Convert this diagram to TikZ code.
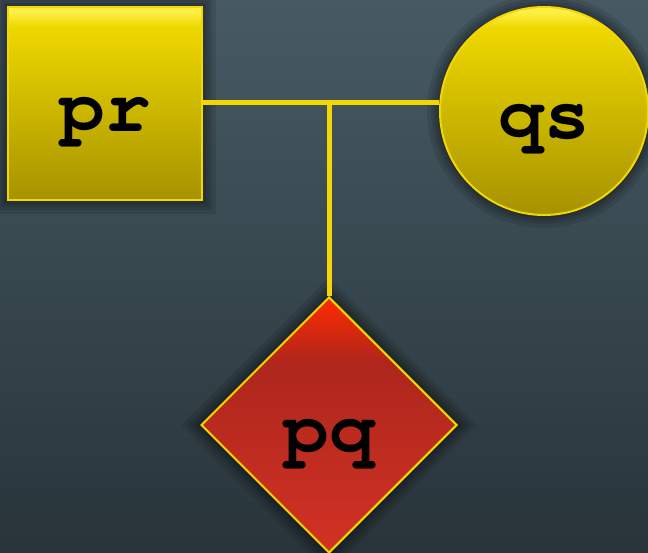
\documentclass[tikz,border=0pt]{standalone}
\usepackage[T1]{fontenc}
\usetikzlibrary{shapes.geometric,backgrounds}
\pgfdeclarelayer{bg}
\pgfsetlayers{bg,background,main}
\definecolor{bgtop}{HTML}{475A63}
\definecolor{bgbot}{HTML}{28343A}
\definecolor{yhi}{HTML}{FFF048}
\definecolor{ytop}{HTML}{EED800}
\definecolor{ybot}{HTML}{A69200}
\definecolor{yline}{HTML}{F2D700}
\definecolor{rtop}{HTML}{FF2A00}
\definecolor{rmid}{HTML}{AE261C}
\definecolor{rbot}{HTML}{D23224}
\pgfdeclareverticalshading{yshade}{100bp}{color(0bp)=(ybot); color(25bp)=(ybot); color(70bp)=(ytop); color(74bp)=(yhi); color(100bp)=(yhi)}
\pgfdeclareverticalshading{rshade}{100bp}{color(0bp)=(rbot); color(25bp)=(rbot); color(62bp)=(rmid); color(75bp)=(rtop); color(100bp)=(rtop)}
\tikzset{
  lbl/.style={font=\fontfamily{pcr}\bfseries\fontsize{76}{76}\selectfont, text=black, text height=56pt, text depth=0pt},
  yshape/.style={draw=yline, line width=2pt, shading=yshade, lbl, inner sep=0pt},
  rshape/.style={draw=yline, line width=2pt, shading=rshade, lbl, inner sep=0pt},
  conn/.style={draw=yline, line width=5pt},
  glow/.style={draw=black, opacity=0.1, line width=#1}
}
\begin{document}
\begin{tikzpicture}[x=1pt,y=1pt]
\begin{pgfonlayer}{bg}
\shade[top color=bgtop, bottom color=bgbot] (0,0) rectangle (648,552);
\end{pgfonlayer}
\useasboundingbox (0,0) rectangle (648,552);
\coordinate (jn) at (329,449);
\node[yshape, rectangle, minimum width=194pt, minimum height=193pt] (pr) at (105,448) {pr};
\node[yshape, circle, minimum size=208pt] (qs) at (544,441) {qs};
\node[rshape, diamond, aspect=1, minimum width=256pt, minimum height=256pt] (pq) at (329,127) {pq};
\begin{scope}[on background layer]
\foreach \w in {6,12,18,26} {
  \draw[glow=\w pt] (pr.north west) rectangle (pr.south east);
  \draw[glow=\w pt] (qs.center) circle (104pt);
  \draw[glow=\w pt] (pq.north) -- (pq.east) -- (pq.south) -- (pq.west) -- cycle;
}
\draw[conn] (pr.east |- jn) -- (qs.west |- jn);
\draw[conn] (jn) -- (pq.north);
\end{scope}
\end{tikzpicture}
\end{document}
